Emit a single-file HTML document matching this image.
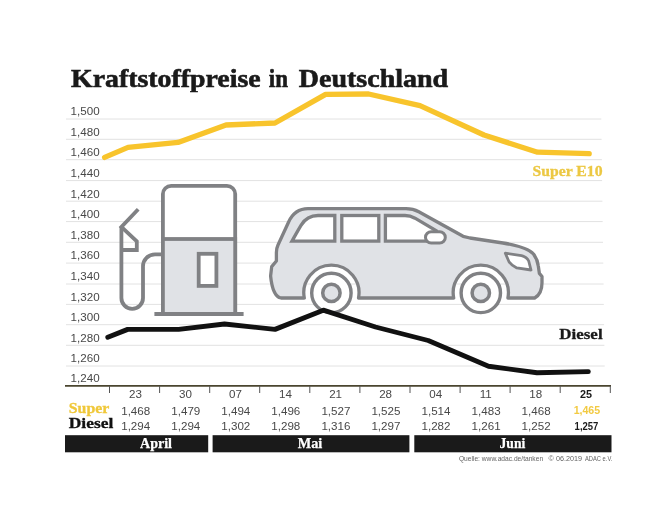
<!DOCTYPE html>
<html lang="de"><head><meta charset="utf-8"><title>Kraftstoffpreise in Deutschland</title>
<style>html,body{margin:0;padding:0;background:#fff}svg{display:block}.s{font-family:"Liberation Sans", sans-serif}.f{font-family:"Liberation Serif", serif;font-weight:bold}</style></head><body>
<svg width="650" height="513" viewBox="0 0 650 513">
<rect width="650" height="513" fill="#fff"/>
<g class="f" font-size="25" fill="#1a1a1a" stroke="#1a1a1a" stroke-width="0.6"><text x="71.1" y="87.3" textLength="189.5" lengthAdjust="spacingAndGlyphs">Kraftstoffpreise</text><text x="268.8" y="87.3" textLength="19.2" lengthAdjust="spacingAndGlyphs">in</text><text x="298.8" y="87.3" textLength="149.4" lengthAdjust="spacingAndGlyphs">Deutschland</text></g>
<g stroke="#e2e2e2" stroke-width="1">
<line x1="66" x2="601.3" y1="119.0" y2="119.0"/>
<line x1="66" x2="601.6" y1="139.3" y2="139.3"/>
<line x1="66" x2="601.9" y1="159.7" y2="159.7"/>
<line x1="66" x2="602.1" y1="180.6" y2="180.6"/>
<line x1="66" x2="602.4" y1="201.2" y2="201.2"/>
<line x1="66" x2="602.7" y1="221.6" y2="221.6"/>
<line x1="66" x2="603.0" y1="242.3" y2="242.3"/>
<line x1="66" x2="603.3" y1="263.1" y2="263.1"/>
<line x1="66" x2="603.6" y1="284.0" y2="284.0"/>
<line x1="66" x2="603.8" y1="304.4" y2="304.4"/>
<line x1="66" x2="604.1" y1="324.7" y2="324.7"/>
<line x1="66" x2="604.4" y1="345.3" y2="345.3"/>
<line x1="66" x2="604.7" y1="366.0" y2="366.0"/>
</g>
<g class="s" font-size="11.6" fill="#484848">
<text x="70.6" y="115.3">1,500</text>
<text x="70.6" y="135.6">1,480</text>
<text x="70.6" y="156.0">1,460</text>
<text x="70.6" y="176.9">1,440</text>
<text x="70.6" y="197.5">1,420</text>
<text x="70.6" y="217.9">1,400</text>
<text x="70.6" y="238.6">1,380</text>
<text x="70.6" y="259.4">1,360</text>
<text x="70.6" y="280.3">1,340</text>
<text x="70.6" y="300.7">1,320</text>
<text x="70.6" y="321.0">1,300</text>
<text x="70.6" y="341.6">1,280</text>
<text x="70.6" y="362.3">1,260</text>
<text x="70.6" y="382.3">1,240</text>
</g>
<g fill="none" stroke="#808184" stroke-width="3.8" stroke-linejoin="miter">
<path d="M162.9 314V194.1a8.3 8.3 0 0 1 8.3-8.3h55.7a8.3 8.3 0 0 1 8.3 8.3V314" fill="#fff"/>
<rect x="162.9" y="239" width="72.3" height="75" fill="#e0e2e6"/>
<path d="M154.4 314H243.6"/>
<rect x="198.7" y="253.8" width="17.7" height="32.1" fill="#fff"/>
<path d="M162.9 254.3H155a12 12 0 0 0 -12 12V298a10.8 10.8 0 0 1 -21.6 0V227"/>
<path d="M138.2 209.2L121.4 227L136.8 241.4V250H121.4"/>
</g>
<g fill="#e0e2e6" stroke="#808184" stroke-width="3.3" stroke-linejoin="round">
<path d="M304.3 298 H281 C276 297 272 290 270.6 276 L271.7 266.6 L276.4 261 V252.5 C276.4 249.5 276.8 247.5 278 245 L288.5 222.2 C292.5 213.5 298 208.7 308 208.7 H406 C411 208.7 414 209.2 418.8 211.8 L463.1 236.3 L470 238 L503 243 C518 245.5 529 249 533.5 254 C536.5 258 538 263 538.3 266 L539.4 273.4 L542 276.5 V282.7 C542 290 539 295.5 534.7 298 H507.9 A27.6 27.6 0 1 0 453.7 298 H358.5 A27.6 27.6 0 1 0 304.3 298 Z"/>
<g fill="#fff" stroke-linejoin="miter" stroke-miterlimit="2.5">
<path d="M292 241.1 H334.8 V215.5 H318 C309 215.5 304.5 219.5 301 225.3 C297.5 231 295 236 292 241.1 Z"/>
<rect x="341.8" y="215.5" width="37" height="25.6"/>
<path d="M385.4 241.1 V215.5 H405 C409 215.5 411 216 415 218.2 L436 230.5 L430 241.1 Z"/>
</g>
<rect x="425.5" y="231.7" width="19.8" height="11.4" rx="5.7" fill="#fff" stroke-width="3"/>
<path d="M505.3 253.2 L521.5 255.6 C525 256.5 527.5 258.5 528.7 261 L531 270 L516.8 267.9 C513 266 510.5 264 509 261.7 Z" fill="#fff" stroke-width="2.8"/>
<circle cx="331.4" cy="292.9" r="19.7" fill="#fff" stroke-width="3.4"/>
<circle cx="331.4" cy="292.9" r="8.7" stroke-width="3.5"/>
<circle cx="480.8" cy="292.9" r="19.7" fill="#fff" stroke-width="3.4"/>
<circle cx="480.8" cy="292.9" r="8.7" stroke-width="3.5"/>
</g>
<polyline points="104.6,157.4 128,147.4 178,142.4 226,125 275,123 325.6,94.4 368.6,94 420,105.6 484,135 537.5,152.2 589.2,153.7" fill="none" stroke="#f8c42c" stroke-width="5.3" stroke-linecap="round" stroke-linejoin="round"/>
<polyline points="107.8,337.3 127.7,329.4 178.7,329.4 224.5,324 275,329.4 323.3,310.2 375.5,327 428.2,340.5 488.5,366.2 537,372.8 588.3,371.6" fill="none" stroke="#111" stroke-width="4.9" stroke-linecap="round" stroke-linejoin="round"/>
<text class="f" x="532.5" y="175.7" font-size="14" fill="#ecc843" stroke="#ecc843" stroke-width="0.3" textLength="70" lengthAdjust="spacingAndGlyphs">Super E10</text>
<text class="f" x="559.3" y="339" font-size="15" fill="#1a1a1a" stroke="#1a1a1a" stroke-width="0.3" textLength="43.3" lengthAdjust="spacingAndGlyphs">Diesel</text>
<line x1="65" x2="611" y1="385.9" y2="385.9" stroke="#4a452f" stroke-width="1.7"/>
<g stroke="#555" stroke-width="1">
<line x1="109.5" x2="109.5" y1="386" y2="393"/>
<line x1="159.6" x2="159.6" y1="386" y2="393"/>
<line x1="209.7" x2="209.7" y1="386" y2="393"/>
<line x1="259.7" x2="259.7" y1="386" y2="393"/>
<line x1="309.8" x2="309.8" y1="386" y2="393"/>
<line x1="359.9" x2="359.9" y1="386" y2="393"/>
<line x1="410.0" x2="410.0" y1="386" y2="393"/>
<line x1="460.1" x2="460.1" y1="386" y2="393"/>
<line x1="510.1" x2="510.1" y1="386" y2="393"/>
<line x1="560.2" x2="560.2" y1="386" y2="393"/>
<line x1="610.3" x2="610.3" y1="386" y2="393"/>
</g>
<g class="s" font-size="11.6" fill="#484848" text-anchor="middle">
<text x="135.4" y="397.7">23</text>
<text x="135.7" y="414.7">1,468</text>
<text x="135.7" y="429.6">1,294</text>
<text x="185.4" y="397.7">30</text>
<text x="185.8" y="414.7">1,479</text>
<text x="185.8" y="429.6">1,294</text>
<text x="235.5" y="397.7">07</text>
<text x="235.8" y="414.7">1,494</text>
<text x="235.8" y="429.6">1,302</text>
<text x="285.5" y="397.7">14</text>
<text x="285.8" y="414.7">1,496</text>
<text x="285.8" y="429.6">1,298</text>
<text x="335.6" y="397.7">21</text>
<text x="335.9" y="414.7">1,527</text>
<text x="335.9" y="429.6">1,316</text>
<text x="385.6" y="397.7">28</text>
<text x="385.9" y="414.7">1,525</text>
<text x="385.9" y="429.6">1,297</text>
<text x="435.7" y="397.7">04</text>
<text x="436.0" y="414.7">1,514</text>
<text x="436.0" y="429.6">1,282</text>
<text x="485.8" y="397.7">11</text>
<text x="486.1" y="414.7">1,483</text>
<text x="486.1" y="429.6">1,261</text>
<text x="535.8" y="397.7">18</text>
<text x="536.1" y="414.7">1,468</text>
<text x="536.1" y="429.6">1,252</text>
<text x="585.9" y="397.7" font-weight="bold" font-size="10.8" fill="#1a1a1a">25</text>
<text x="586.9" y="414.3" font-weight="bold" font-size="10.6" fill="#f2ca42">1,465</text>
<text x="586.5" y="429.8" font-weight="bold" font-size="10.6" fill="#1a1a1a" textLength="23.8" lengthAdjust="spacingAndGlyphs">1,257</text>
</g>
<text class="f" x="68.8" y="412.8" font-size="14.5" fill="#f0c83a" stroke="#f0c83a" stroke-width="0.3" textLength="40.5" lengthAdjust="spacingAndGlyphs">Super</text>
<text class="f" x="68.8" y="427.8" font-size="14.5" fill="#111" stroke="#111" stroke-width="0.3" textLength="44.5" lengthAdjust="spacingAndGlyphs">Diesel</text>
<g fill="#1a1a1a"><rect x="65" y="435.2" width="143.2" height="17.1"/><rect x="212.6" y="435.2" width="196.8" height="17.1"/><rect x="414.3" y="435.2" width="197.2" height="17.1"/></g>
<g class="f" font-size="14.6" fill="#fff" stroke="#fff" stroke-width="0.25" lengthAdjust="spacingAndGlyphs"><text x="140" y="447.6" textLength="32" lengthAdjust="spacingAndGlyphs">April</text><text x="297.7" y="447.6" textLength="24.6" lengthAdjust="spacingAndGlyphs">Mai</text><text x="499.5" y="447.6" textLength="25.8" lengthAdjust="spacingAndGlyphs">Juni</text></g>
<g class="s" font-size="6.6" fill="#646464"><text x="458.9" y="461.3" textLength="84.2" lengthAdjust="spacingAndGlyphs">Quelle: www.adac.de/tanken</text><text x="548.6" y="461.3" textLength="33.4" lengthAdjust="spacingAndGlyphs">© 06.2019</text><text x="585" y="461.3" textLength="27.3" lengthAdjust="spacingAndGlyphs">ADAC e.V.</text></g>
</svg></body></html>
